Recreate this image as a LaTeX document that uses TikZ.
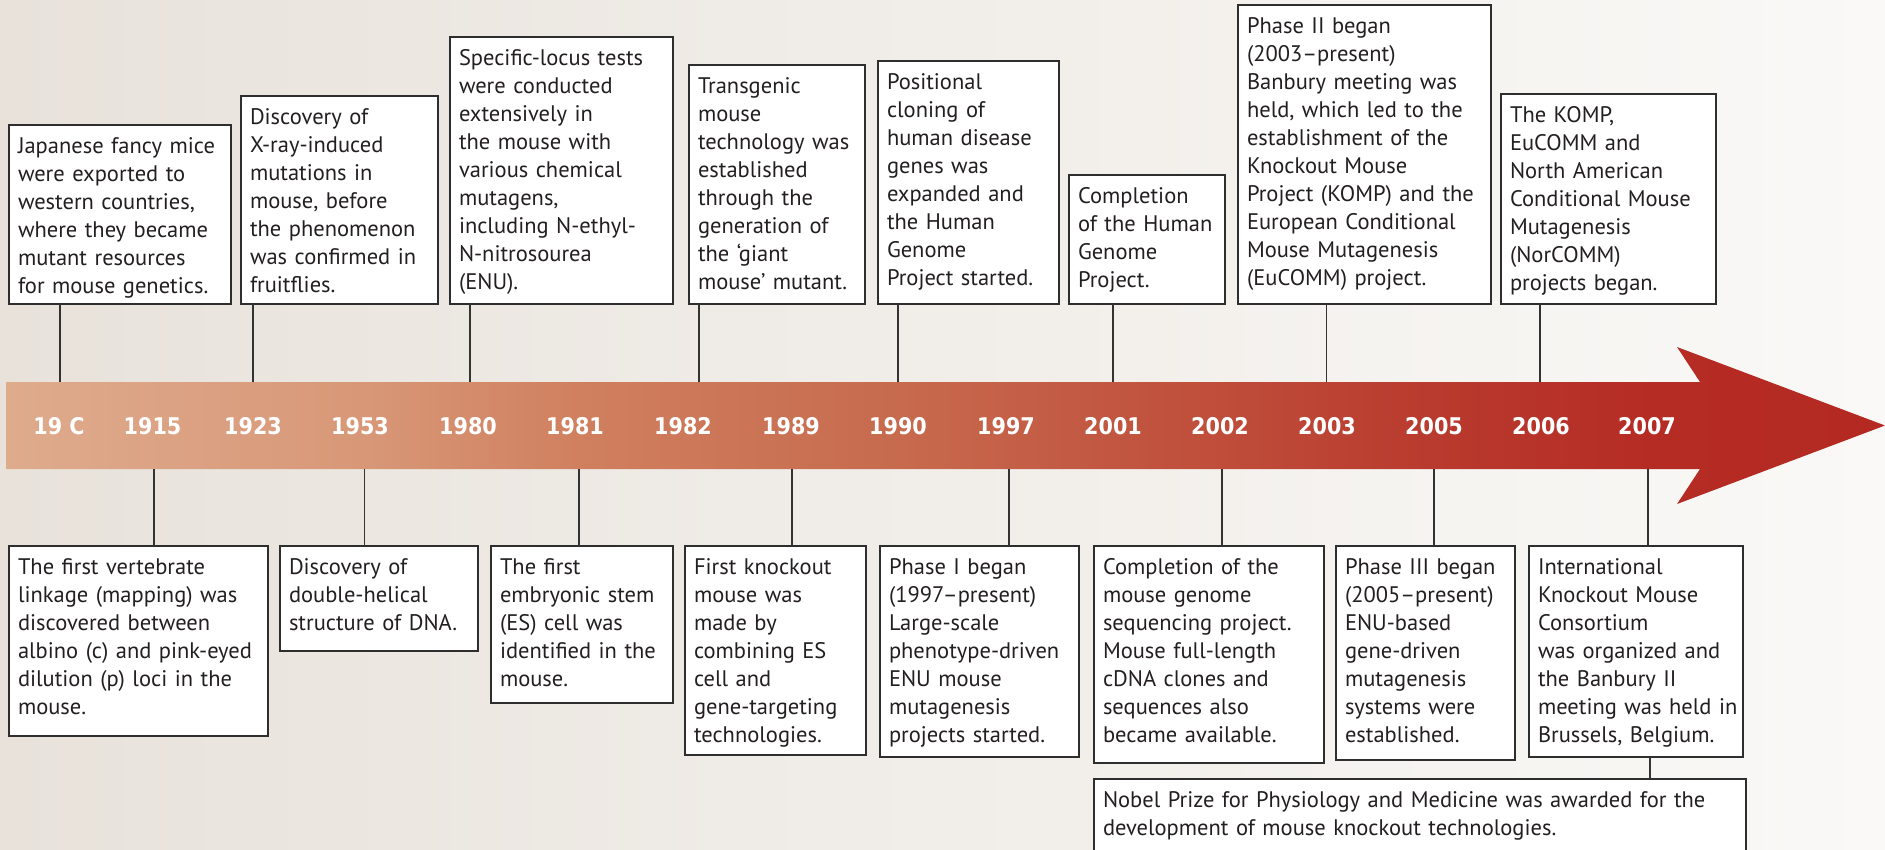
\documentclass[tikz,border=0pt]{standalone}
\usepackage{fontspec}
\setmainfont{PT Sans}
\newfontfamily\yearfont[FakeStretch=0.9]{DejaVu Sans}
\usetikzlibrary{calc}

% colours
\definecolor{bgL}{HTML}{E8E2DB}
\definecolor{bgR}{HTML}{FAF9F7}
\definecolor{boxline}{HTML}{2E2E2E}
\definecolor{linkc}{HTML}{333333}
\definecolor{evtext}{HTML}{231F20}
\definecolor{s0}{HTML}{DEAB8D}
\definecolor{s1}{HTML}{D89878}
\definecolor{s2}{HTML}{D0805F}
\definecolor{s3}{HTML}{C76A4E}
\definecolor{s4}{HTML}{BF4D3A}
\definecolor{s5}{HTML}{B93A2E}
\definecolor{s6}{HTML}{B52C24}
\definecolor{s7}{HTML}{B42A22}

% colour ramp of the time arrow (25bp..75bp span the arrow)
\pgfdeclarehorizontalshading{timeline}{100bp}{%
  color(0bp)=(s0); color(25bp)=(s0); color(34.42bp)=(s1); color(40.14bp)=(s2);
  color(48.79bp)=(s3); color(57.30bp)=(s4); color(63.03bp)=(s5);
  color(68.75bp)=(s6); color(75bp)=(s7); color(100bp)=(s7)}

\tikzset{
  evbox/.style={draw=boxline, line width=1.8pt, fill=white, anchor=north west,
    inner xsep=9pt, inner ysep=0pt, outer sep=0pt, text height=28pt,
    align=left, font=\fontsize{22.5}{28}\selectfont, text=evtext,
    % lines are broken by hand only: let a long line run slightly past the margin
    execute at begin node={\rightskip=0pt plus 1fil minus 40pt\relax
      \hyphenpenalty=10000 \exhyphenpenalty=10000 \relax}},
  yearlbl/.style={text=white, font=\yearfont\bfseries\fontsize{23}{23}\selectfont,
    anchor=center, inner sep=0pt},
  link/.style={draw=linkc, line width=1.6pt},
}

\begin{document}
\begin{tikzpicture}[x=1pt, y=-1pt]
\useasboundingbox (0,0) rectangle (1885,849);

% background
\shade[left color=bgL, right color=bgR] (0,0) rectangle (1885,849);

% time arrow
\shade[shading=timeline] (6,382) -- (1700,382) -- (1677,347) -- (1885,425.5)
  -- (1677,504) -- (1700,469) -- (6,469) -- cycle;
\coordinate (bartop) at (0,382);
\coordinate (barbot) at (0,469);

% years
\node[yearlbl] (y19c) at (59,426.5) {19 C};
\node[yearlbl] (y1915) at (152.5,426.5) {1915};
\node[yearlbl] (y1923) at (253,426.5) {1923};
\node[yearlbl] (y1953) at (360,426.5) {1953};
\node[yearlbl] (y1980) at (468,426.5) {1980};
\node[yearlbl] (y1981) at (575,426.5) {1981};
\node[yearlbl] (y1982) at (683,426.5) {1982};
\node[yearlbl] (y1989) at (791,426.5) {1989};
\node[yearlbl] (y1990) at (898,426.5) {1990};
\node[yearlbl] (y1997) at (1006,426.5) {1997};
\node[yearlbl] (y2001) at (1113,426.5) {2001};
\node[yearlbl] (y2002) at (1220,426.5) {2002};
\node[yearlbl] (y2003) at (1327,426.5) {2003};
\node[yearlbl] (y2005) at (1434,426.5) {2005};
\node[yearlbl] (y2006) at (1541,426.5) {2006};
\node[yearlbl] (y2007) at (1647,426.5) {2007};

% events above the arrow
\node[evbox, text width=204pt, text depth=151pt] (t1) at (9,125)
  {Japanese fancy mice\\were exported to\\western countries,\\where they became\\mutant resources\\for mouse genetics.};
\node[evbox, text width=179pt, text depth=180pt] (t2) at (241,96)
  {Discovery of\\X-ray-induced\\mutations in\\mouse, before\\the phenomenon\\was confirmed in\\fruitflies.};
\node[evbox, text width=205pt, text depth=239pt] (t3) at (450,37)
  {Specific-locus tests\\were conducted\\extensively in\\the mouse with\\various chemical\\mutagens,\\including N-ethyl-\\N-nitrosourea\\(ENU).};
\node[evbox, text width=158pt, text depth=211pt] (t4) at (689,65)
  {Transgenic\\mouse\\technology was\\established\\through the\\generation of\\the ‘giant\\mouse’ mutant.};
\node[evbox, text width=163pt, text depth=215pt] (t5) at (878,61)
  {Positional\\cloning of\\human disease\\genes was\\expanded and\\the Human\\Genome\\Project started.};
\node[evbox, text width=138pt, text depth=101pt] (t6) at (1069,175)
  {Completion\\of the Human\\Genome\\Project.};
\node[evbox, text width=235pt, text depth=271pt] (t7) at (1238,5)
  {Phase II began\\(2003–present)\\Banbury meeting was\\held, which led to the\\establishment of the\\Knockout Mouse\\Project (KOMP) and the\\European Conditional\\Mouse Mutagenesis\\(EuCOMM) project.};
\node[evbox, text width=197pt, text depth=182pt] (t8) at (1501,94)
  {The KOMP,\\EuCOMM and\\North American\\Conditional Mouse\\Mutagenesis\\(NorCOMM)\\projects began.};

% events below the arrow
\node[evbox, text width=241pt, text depth=162pt] (b1) at (9,546)
  {The first vertebrate\\linkage (mapping) was\\discovered between\\albino (c) and pink-eyed\\dilution (p) loci in the\\mouse.};
\node[evbox, text width=180pt, text depth=77pt] (b2) at (280,546)
  {Discovery of\\double-helical\\structure of DNA.};
\node[evbox, text width=164pt, text depth=129pt] (b3) at (491,546)
  {The first\\embryonic stem\\(ES) cell was\\identified in the\\mouse.};
\node[evbox, text width=163pt, text depth=181pt] (b4) at (685,546)
  {First knockout\\mouse was\\made by\\combining ES\\cell and\\gene-targeting\\technologies.};
\node[evbox, text width=181pt, text depth=183pt] (b5) at (880,546)
  {Phase I began\\(1997–present)\\Large-scale\\phenotype-driven\\ENU mouse\\mutagenesis\\projects started.};
\node[evbox, text width=212pt, text depth=189pt] (b6) at (1094,546)
  {Completion of the\\mouse genome\\sequencing project.\\Mouse full-length\\cDNA clones and\\sequences also\\became available.};
\node[evbox, text width=161pt, text depth=186pt] (b7) at (1336,546)
  {Phase III began\\(2005–present)\\ENU-based\\gene-driven\\mutagenesis\\systems were\\established.};
\node[evbox, text width=196pt, text depth=183pt] (b8) at (1529,546)
  {International\\Knockout Mouse\\Consortium\\was organized and\\the Banbury II\\meeting~was~held~in\\Brussels,~Belgium.};
\node[evbox, text width=634pt, text depth=64pt] (nobel) at (1094,779)
  {Nobel Prize for Physiology and Medicine was awarded for the\\development of mouse knockout technologies.};

% stems of the upper events
\foreach \evt/\xx in {t1/60, t2/253, t3/470, t4/699, t5/898, t6/1113, t7/1326.5, t8/1540}{
  \coordinate (kx) at (\xx,0);
  \draw[link] (\evt.south -| kx) -- (bartop -| kx);
}
% stems of the lower events
\foreach \evt/\xx in {b1/154, b2/364.5, b3/579, b4/792, b5/1009, b6/1222, b7/1434, b8/1648}{
  \coordinate (kx) at (\xx,0);
  \draw[link] (barbot -| kx) -- (\evt.north -| kx);
}
% Nobel prize hangs below the 2007 event
\coordinate (kn) at (1650,0);
\draw[link] (b8.south -| kn) -- (nobel.north -| kn);
\end{tikzpicture}
\end{document}
